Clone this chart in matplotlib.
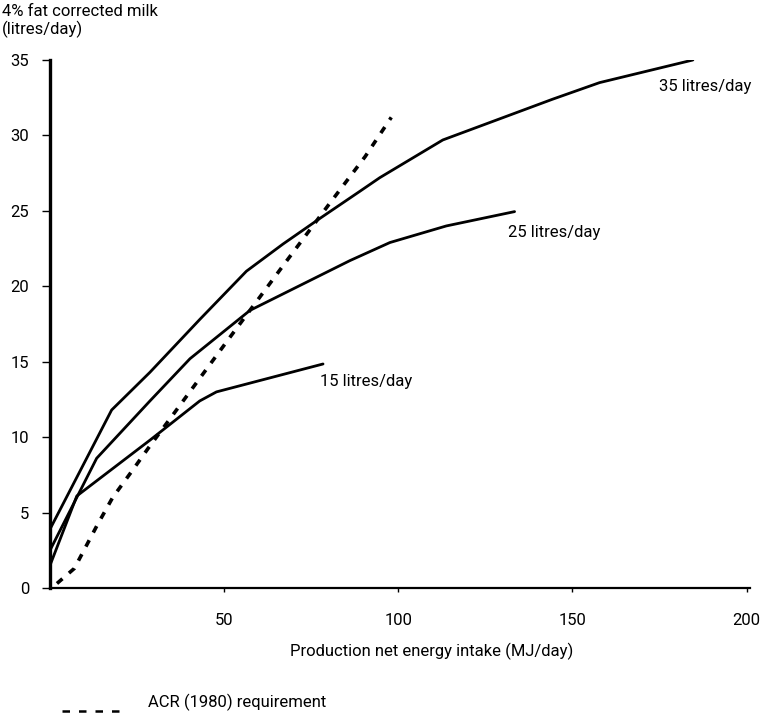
import matplotlib
matplotlib.use("Agg")
import matplotlib.pyplot as plt
from matplotlib.lines import Line2D

plt.rcParams["font.family"] = ["Roboto", "DejaVu Sans"]

# --- data ---------------------------------------------------------------
# production net energy intake (MJ/day) vs 4% FCM (litres/day)
x35 = [0, 17.7, 28.7, 43.0, 56.4, 66.9, 77.5, 89.0, 94.7, 112.8, 144.3, 157.8, 184.6]
y35 = [3.9, 11.8, 14.3, 17.8, 21.0, 22.8, 24.5, 26.3, 27.2, 29.7, 32.4, 33.5, 35.0]

x25 = [0, 13.4, 28.7, 40.2, 57.4, 86.1, 97.6, 113.8, 133.4]
y25 = [2.5, 8.6, 12.4, 15.2, 18.4, 21.7, 22.9, 24.0, 24.95]

x15 = [0, 7.7, 28.7, 43.0, 47.8, 78.4]
y15 = [1.5, 6.1, 9.8, 12.4, 13.0, 14.85]

x_acr = [2, 7, 13.4, 18, 24, 28, 36, 43, 51.6, 60.3, 68, 80, 90.5, 98]
y_acr = [0.3, 1.3, 4.1, 6.0, 7.9, 9.2, 11.7, 13.9, 16.6, 19.3, 21.7, 25.4, 28.6, 31.2]

curve_labels = ["35 litres/day", "25 litres/day", "15 litres/day"]
xticks = [50, 100, 150, 200]
yticks = [0, 5, 10, 15, 20, 25, 30, 35]

# --- figure ---------------------------------------------------------------
W, H = 763, 717
fig = plt.figure(figsize=(W / 100, H / 100), dpi=100)
ax = fig.add_axes([50 / W, 1 - 588 / H, 700 / W, (588 - 60) / H])

ax.plot(x35, y35, color="black", lw=2.0, solid_capstyle="round")
ax.plot(x25, y25, color="black", lw=2.0, solid_capstyle="round")
ax.plot(x15, y15, color="black", lw=2.0, solid_capstyle="round")
ax.plot(x_acr, y_acr, color="black", lw=2.6, linestyle=(0, (2.0, 2.4)))

ax.set_xlim(0, 201)
ax.set_ylim(0, 35)
for s in ("top", "right"):
    ax.spines[s].set_visible(False)
ax.spines["left"].set_linewidth(2.4)
ax.spines["bottom"].set_linewidth(1.6)

ax.set_xticks(xticks)
ax.set_yticks(yticks)
ax.tick_params(axis="x", length=3, width=1, pad=15, labelsize=12)
ax.tick_params(axis="y", length=6, width=1, pad=9, labelsize=12)

# curve end labels
ax.text(175, 33.25, curve_labels[0], fontsize=12, va="center", ha="left")
ax.text(131.4, 23.55, curve_labels[1], fontsize=12, va="center", ha="left")
ax.text(77.5, 13.7, curve_labels[2], fontsize=12, va="center", ha="left")

# axis titles
fig.text(2 / W, 1 - 4 / H, "4% fat corrected milk\n(litres/day)", fontsize=12,
         ha="left", va="top", linespacing=1.1)
fig.text(432 / W, 1 - 651 / H, "Production net energy intake (MJ/day)",
         fontsize=12, ha="center", va="center")

# legend for dashed line
fig.add_artist(Line2D([62 / W, 128 / W], [1 - 711 / H, 1 - 711 / H],
                      color="black", lw=1.8, linestyle=(0, (3.0, 3.6))))
fig.text(148 / W, 1 - 702 / H, "ACR (1980) requirement", fontsize=12,
         ha="left", va="center")

fig.savefig("out.png", dpi=100)
